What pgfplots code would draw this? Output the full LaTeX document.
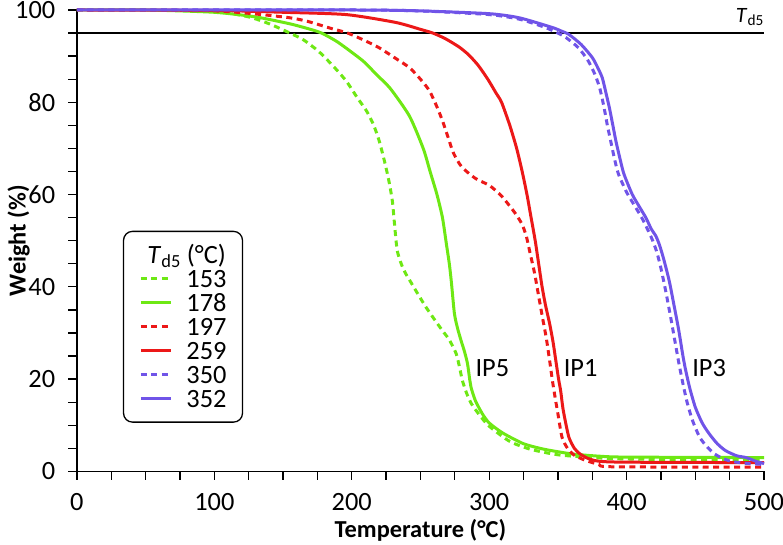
\documentclass[border=0pt]{standalone}
\usepackage{pgfplots}
\pgfplotsset{compat=1.18}
\usepackage{fontspec}
\setmainfont{Carlito}
\definecolor{cgreen}{RGB}{110,232,20}
\definecolor{cred}{RGB}{236,24,24}
\definecolor{cblue}{RGB}{112,84,232}
\newcommand{\tickf}{\fontsize{26.5}{30}\selectfont}
\newcommand{\labf}{\fontsize{24.5}{28}\selectfont}
\begin{document}
\begin{tikzpicture}
\begin{axis}[
  scale only axis, width=688bp, height=462bp,
  xmin=0, xmax=500, ymin=0, ymax=100,
  axis lines=left, axis line style={-, line width=1.3bp},
  xtick={0,100,...,500}, ytick={0,20,...,100},
  minor x tick num=3, minor y tick num=3,
  tick align=outside, major tick length=8.5bp, minor tick length=8.5bp,
  tick style={line width=1.3bp, black},
  /pgf/number format/assume math mode=true,
  tick label style={font=\tickf, inner sep=0pt},
  xticklabel style={yshift=-13bp},
  yticklabel shift=13bp,
  xlabel={\textbf{Temperature (\textdegree C)}},
  ylabel={\textbf{Weight (\%)}},
  label style={font=\labf, inner sep=0pt},
  xlabel style={at={(axis description cs:0.5,0)}, anchor=north, yshift=-48bp},
  ylabel style={at={(axis description cs:-0.0685,0.5)}, anchor=south},
  clip=false,
  legend style={at={(axis description cs:0.0669,0.5216)}, anchor=north west, draw=black, line width=1.3bp,
     rounded corners=9bp, font=\tickf, row sep=7bp, column sep=14bp,
     inner xsep=16bp, inner ysep=15bp,
     nodes={inner sep=0pt, text height=17bp, text depth=0bp}},
  legend cell align=left,
  legend image code/.code={\draw[#1] (0bp,0bp) -- (30bp,0bp);},
  every axis plot/.append style={line width=3bp},
]
\addplot[black, line width=1.2bp, forget plot] coordinates {(0,95) (500,95)};
\addlegendimage{empty legend}
\addlegendentry{\hspace*{-39bp}\textit{T}\textsubscript{d5} (\textdegree C)}
% 153 green dashed
\addplot[cgreen, dash pattern=on 6bp off 4.5bp, smooth, tension=0.4] coordinates {
(0,100) (50,100) (100,99.7) (125,98.5) (140,97) (155,95) (165,93.5) (176,91) (186,88)
(196,84.6) (204,81) (211,78) (216,75) (220,71.6) (224,67) (227,63) (229.5,58.7) (231,54)
(233,48) (236,45) (239,43) (243,41) (248,38.5) (254,35.6) (260,33) (266,30.5) (271,28.5)
(276,25.5) (278.5,22.5) (280.5,19.7) (283.5,17) (287,14.7) (293,12.2) (300,9.8) (315,6.5)
(330,4.8) (350,3.6) (375,3.0) (400,2.7) (450,2.5) (500,2.4)};
\addlegendentry{153}
% 178 green solid
\addplot[cgreen, smooth, tension=0.4] coordinates {
(0,100) (50,100) (100,99.5) (130,98.5) (155,97) (170,95.8) (178,95) (190,93) (208,89)
(218,86) (228,83) (242,77) (252,70) (257,65) (262,60) (266,55) (269,49) (271,45)
(272.5,41) (274.7,34.2) (277,31) (279.5,28.4) (282,26) (284.2,23.4) (285.8,20) (287,18)
(290,15.3) (295,12.5) (300,10.5) (310,8.3) (325,6) (340,4.8) (360,3.8) (380,3.3) (400,3.1) (500,3.0)};
\addlegendentry{178}
% 197 red dashed
\addplot[cred, dash pattern=on 6bp off 4.5bp, smooth, tension=0.4] coordinates {
(0,100) (100,99.8) (150,98.5) (167,97.6) (185,96) (197,95) (210,93.3) (220,91.8) (232,89.5)
(242,87.5) (250,85) (256.5,82.5) (262,79) (266,76) (270,72.5) (274,69) (280,66) (290,63.5)
(300,62) (308,60) (315,57.5) (320,55.5) (324,53.5) (327,51) (330,47) (333,43) (336,38)
(339,33) (341.5,29) (344,24) (346,19.7) (348,16) (350,12.5) (353,7.4) (357,5) (362,3.5)
(370,2.4) (380,1.5) (390,1.0) (500,0.9)};
\addlegendentry{197}
% 259 red solid
\addplot[cred, smooth, tension=0.4] coordinates {
(0,100) (100,99.9) (150,99.5) (196,99) (232,97.3) (250,95.8) (259,95) (268,93.8) (278,92)
(285,90.3) (292,88) (299,85) (305,82) (309,80) (315,75) (320,70) (324,65) (327.5,60)
(330.5,55) (333.5,50) (336,45) (338.5,40) (341,36) (344,32) (346.5,28) (348.5,24)
(350.5,20) (352,17.5) (353.5,14) (355,11.5) (358,7.4) (362,5) (366,3.8) (372,2.8)
(380,2.2) (400,2.0) (500,1.9)};
\addlegendentry{259}
% 350 blue dashed
\addplot[cblue, dash pattern=on 6bp off 4.5bp, smooth, tension=0.4] coordinates {
(0,100) (200,100) (250,99.8) (300,99.0) (322,98.0) (340,96.3) (350,95) (356,94) (365,91.8)
(372,89) (377,86) (380.5,83) (383.5,79) (386,75) (388.5,71.5) (391,68) (394,64.5) (400,60.5)
(406,57.5) (411,55) (416,52) (419,50) (422,47.5) (425,44) (428.5,39) (432,33.5) (435,28.5)
(438,23.5) (441,19) (444,15) (448,11) (453,7.5) (458,5.5) (464,3.8) (470,2.8) (476,2.2)
(485,1.8) (500,1.5)};
\addlegendentry{350}
% 352 blue solid
\addplot[cblue, smooth, tension=0.4] coordinates {
(0,100) (200,100) (250,99.8) (300,99.2) (322,98.3) (346,96.2) (352,95.5) (358,94.7) (367,92.5)
(375,89.7) (379,87.5) (382.3,85.3) (385,82) (387.4,78.9) (390,75) (392.2,71.6) (395,68)
(398,64.5) (404,60.1) (409,57.5) (414,55) (418,52.5) (421.3,51) (424,49) (427,46) (431,41.3)
(434.5,36) (438,30.5) (441,25) (443,21.9) (446,18) (450,13.9) (455,10.5) (460,8.2) (466,6)
(472,4.5) (480,3.4) (487,3.0) (494,2.2) (500,1.7)};
\addlegendentry{352}
\node[font=\tickf] at (axis cs:302.3,22.3) {IP5};
\node[font=\tickf] at (axis cs:366.5,22.3) {IP1};
\node[font=\tickf] at (axis cs:460,22.3) {IP3};
\node[font=\fontsize{22}{25}\selectfont, anchor=south east, inner sep=0pt, yshift=7bp] at (axis cs:500,95) {\textit{T}\textsubscript{d5}};
\end{axis}
\path (current axis.south west) ++(-77bp,-73bp) coordinate (BL);
\path (current axis.north east) ++(19bp,10bp) coordinate (TR);
\pgfresetboundingbox
\path[use as bounding box] (BL) rectangle (TR);
\end{tikzpicture}
\end{document}
